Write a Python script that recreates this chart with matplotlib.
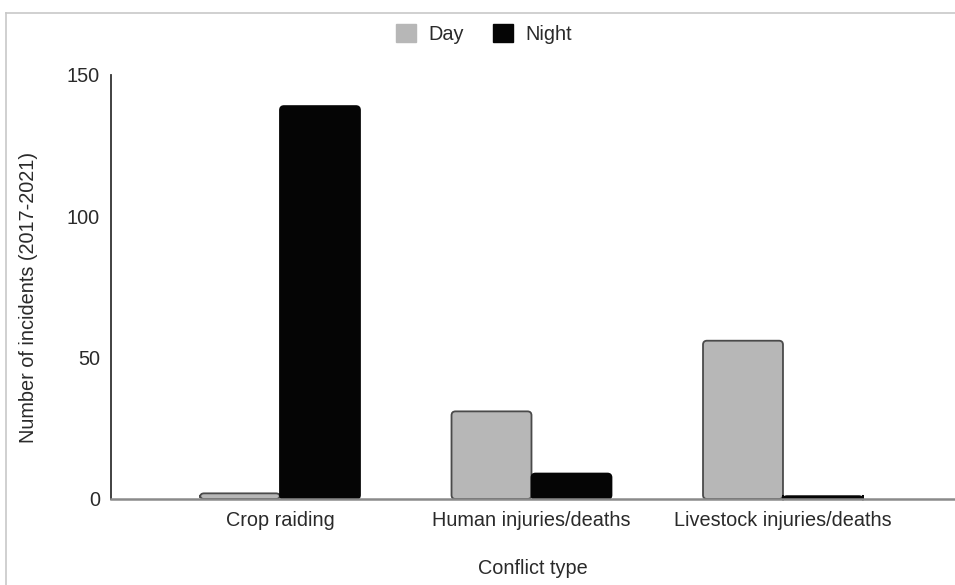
import matplotlib
matplotlib.use("Agg")
import matplotlib.pyplot as plt
from matplotlib.patches import FancyBboxPatch, Rectangle
from matplotlib.lines import Line2D
import numpy as np

categories = ["Crop raiding", "Human injuries/deaths", "Livestock injuries/deaths"]
day = [2, 31, 56]
night = [139, 9, 1]
yticks = [0, 50, 100, 150]

plt.rcParams['font.family'] = ['Liberation Sans', 'DejaVu Sans']

W, H = 955, 585
FS = 14.3
TXT = '#2a2a2a'
fig = plt.figure(figsize=(W / 100, H / 100), dpi=100)
fig.patch.set_facecolor('white')

# light frame (left and top only visible)
fig.add_artist(Line2D([6 / W, 6 / W], [0, 1 - 13 / H], color='#c8c8c8', lw=1.2, transform=fig.transFigure))
fig.add_artist(Line2D([6 / W, 1], [1 - 13 / H, 1 - 13 / H], color='#c8c8c8', lw=1.2, transform=fig.transFigure))

ax_left, ax_right = 111, 955
ax_top, ax_bottom = 75, 499
ax = fig.add_axes([ax_left / W, 1 - ax_bottom / H, (ax_right - ax_left) / W, (ax_bottom - ax_top) / H])

x = np.arange(len(categories))
width = 0.318
ax.set_xlim(-0.672, 2.684)
ax.set_ylim(0, 150)

bars_day = ax.bar(x - width / 2, day, width, color='#b7b7b7', edgecolor='#4a4a4a', linewidth=1.3, label='Day')
bars_night = ax.bar(x + width / 2, night, width, color='#050505', edgecolor='#050505', linewidth=1.3, label='Night')

# replace rectangles with rounded versions
px_x = (ax_right - ax_left) / (2.684 + 0.672)
px_y = (ax_bottom - ax_top) / 150.0
aspect = px_x / px_y
for bars in (bars_day, bars_night):
    for b in bars:
        bx, by = b.get_x(), b.get_y()
        bw, bh = b.get_width(), b.get_height()
        r = min(4.0 / px_x, bh * aspect / 2.0)
        p = FancyBboxPatch((bx, by), bw, bh,
                           boxstyle=f"round,pad=0,rounding_size={r}",
                           mutation_aspect=aspect,
                           facecolor=b.get_facecolor(), edgecolor=b.get_edgecolor(),
                           linewidth=b.get_linewidth(), zorder=2, clip_on=False)
        ax.add_patch(p)
        b.set_visible(False)

for s in ['top', 'right']:
    ax.spines[s].set_visible(False)
ax.spines['left'].set_color('#333333')
ax.spines['left'].set_linewidth(1.3)
ax.spines['bottom'].set_color('#8a8a8a')
ax.spines['bottom'].set_linewidth(1.8)
ax.spines['bottom'].set_zorder(3)

ax.set_yticks(yticks)
ax.set_yticklabels([str(t) for t in yticks])
ax.set_xticks(x)
ax.set_xticklabels(categories)
ax.tick_params(axis='both', length=0, labelsize=FS, labelcolor=TXT)
ax.tick_params(axis='y', pad=8)
ax.tick_params(axis='x', pad=9)

fig.text(29 / W, 1 - 297 / H, "Number of incidents (2017-2021)", rotation=90,
         ha='center', va='center', fontsize=FS, color=TXT)
fig.text(533 / W, 1 - 568 / H, "Conflict type", ha='center', va='center',
         fontsize=FS, color=TXT)

# legend
handles = [Rectangle((0, 0), 1, 1, facecolor='#b7b7b7', edgecolor='#b7b7b7'),
           Rectangle((0, 0), 1, 1, facecolor='#050505', edgecolor='#050505')]
leg = fig.legend(handles, ['Day', 'Night'], loc='center', bbox_to_anchor=(484 / W, 1 - 34 / H),
                 ncol=2, frameon=False, fontsize=FS, handlelength=1.0, handleheight=1.0,
                 handletextpad=0.6, columnspacing=1.5)
for t in leg.get_texts():
    t.set_color(TXT)

fig.savefig("out.png", dpi=100, facecolor='white')
